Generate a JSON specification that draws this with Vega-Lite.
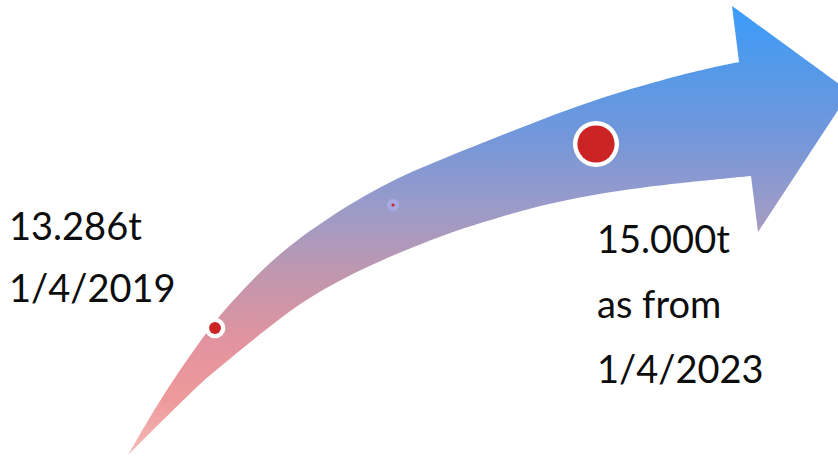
{
  "$schema": "https://vega.github.io/schema/vega-lite/v6.json",
  "width": 838,
  "height": 456,
  "autosize": {"type": "fit", "contains": "padding"},
  "padding": 0,
  "background": "white",
  "config": {"view": {"stroke": null}},
  "datasets": {
    "body": [
      {"x": 128, "top": 455, "bottom": 455},
      {"x": 140, "top": 434, "bottom": 443},
      {"x": 150, "top": 417, "bottom": 433},
      {"x": 160, "top": 401, "bottom": 423},
      {"x": 170, "top": 385, "bottom": 413},
      {"x": 187, "top": 360, "bottom": 396.5},
      {"x": 203, "top": 337, "bottom": 381},
      {"x": 220, "top": 315, "bottom": 367},
      {"x": 240, "top": 293, "bottom": 350.5},
      {"x": 260, "top": 272, "bottom": 334},
      {"x": 280, "top": 254, "bottom": 318.5},
      {"x": 300, "top": 238, "bottom": 304},
      {"x": 320, "top": 224, "bottom": 291.3},
      {"x": 347, "top": 206, "bottom": 276.5},
      {"x": 380, "top": 187, "bottom": 261},
      {"x": 413, "top": 171, "bottom": 247},
      {"x": 447, "top": 157, "bottom": 234},
      {"x": 480, "top": 144, "bottom": 223},
      {"x": 530, "top": 124, "bottom": 208},
      {"x": 580, "top": 105, "bottom": 197},
      {"x": 630, "top": 89, "bottom": 189},
      {"x": 680, "top": 75, "bottom": 183},
      {"x": 710, "top": 68, "bottom": 180},
      {"x": 739, "top": 62, "bottom": 177},
      {"x": 745, "top": 61, "bottom": 176.5}
    ],
    "head": [
      {"x": 732, "top": 6, "bottom": 6},
      {"x": 739, "top": 11.1, "bottom": 62},
      {"x": 739.01, "top": 11.1, "bottom": 177},
      {"x": 751, "top": 19.85, "bottom": 176},
      {"x": 758, "top": 24.95, "bottom": 232},
      {"x": 850, "top": 92, "bottom": 92}
    ],
    "dots": [
      {"stage": "2019", "x": 215, "y": 328},
      {"stage": "mid", "x": 393, "y": 205},
      {"stage": "2023", "x": 596, "y": 144}
    ],
    "labels": [
      {"text": "13.286t", "x": 9, "y": 240},
      {"text": "1/4/2019", "x": 9, "y": 302},
      {"text": "15.000t", "x": 597, "y": 253},
      {"text": "as from", "x": 597, "y": 318},
      {"text": "1/4/2023", "x": 597, "y": 383}
    ]
  },
  "encoding": {
    "x": {"field": "x", "type": "quantitative", "axis": null, "scale": {"domain": [0, 838], "nice": false, "zero": false}}
  },
  "layer": [
    {
      "data": {"name": "body"},
      "mark": {
        "type": "area",
        "interpolate": "basis",
        "clip": true,
        "fill": {
          "gradient": "linear",
          "x1": 0, "y1": -0.1421, "x2": 0, "y2": 1.0,
          "stops": [
            {"offset": 0, "color": "#3a9cfb"},
            {"offset": 0.15, "color": "#5699e8"},
            {"offset": 0.3, "color": "#7597d9"},
            {"offset": 0.45, "color": "#9b9bc9"},
            {"offset": 0.6, "color": "#c097ae"},
            {"offset": 0.75, "color": "#e2939e"},
            {"offset": 0.88, "color": "#ee9a9a"},
            {"offset": 1, "color": "#f4baba"}
          ]
        }
      },
      "encoding": {
        "y": {"field": "top", "type": "quantitative", "axis": null, "scale": {"domain": [0, 456], "nice": false, "zero": false, "reverse": true}},
        "y2": {"field": "bottom"}
      }
    },
    {
      "data": {"name": "head"},
      "mark": {
        "type": "area",
        "interpolate": "linear",
        "clip": true,
        "fill": {
          "gradient": "linear",
          "x1": 0, "y1": -0.0044, "x2": 0, "y2": 1.9867,
          "stops": [
            {"offset": 0, "color": "#3a9cfb"},
            {"offset": 0.15, "color": "#5699e8"},
            {"offset": 0.3, "color": "#7597d9"},
            {"offset": 0.45, "color": "#9b9bc9"},
            {"offset": 0.6, "color": "#c097ae"},
            {"offset": 0.75, "color": "#e2939e"},
            {"offset": 0.88, "color": "#ee9a9a"},
            {"offset": 1, "color": "#f4baba"}
          ]
        }
      },
      "encoding": {
        "y": {"field": "top", "type": "quantitative", "axis": null, "scale": {"domain": [0, 456], "nice": false, "zero": false, "reverse": true}},
        "y2": {"field": "bottom"}
      }
    },
    {
      "data": {"name": "dots"},
      "transform": [{"filter": "datum.stage === '2019'"}],
      "mark": {"type": "point", "shape": "circle", "filled": true, "opacity": 1, "strokeWidth": 0, "color": "#ffffff", "size": 430},
      "encoding": {"y": {"field": "y", "type": "quantitative", "axis": null, "scale": {"domain": [0, 456], "nice": false, "zero": false, "reverse": true}}}
    },
    {
      "data": {"name": "dots"},
      "transform": [{"filter": "datum.stage === '2019'"}],
      "mark": {"type": "point", "shape": "circle", "filled": true, "opacity": 1, "strokeWidth": 0, "color": "#cc2424", "size": 141},
      "encoding": {"y": {"field": "y", "type": "quantitative", "axis": null, "scale": {"domain": [0, 456], "nice": false, "zero": false, "reverse": true}}}
    },
    {
      "data": {"name": "dots"},
      "transform": [{"filter": "datum.stage === 'mid'"}],
      "mark": {"type": "point", "shape": "circle", "filled": true, "opacity": 1, "strokeWidth": 0, "color": "#a7a9e2", "size": 154},
      "encoding": {"y": {"field": "y", "type": "quantitative", "axis": null, "scale": {"domain": [0, 456], "nice": false, "zero": false, "reverse": true}}}
    },
    {
      "data": {"name": "dots"},
      "transform": [{"filter": "datum.stage === 'mid'"}],
      "mark": {"type": "point", "shape": "circle", "filled": true, "opacity": 1, "strokeWidth": 0, "color": "#cc2424", "size": 10},
      "encoding": {"y": {"field": "y", "type": "quantitative", "axis": null, "scale": {"domain": [0, 456], "nice": false, "zero": false, "reverse": true}}}
    },
    {
      "data": {"name": "dots"},
      "transform": [{"filter": "datum.stage === '2023'"}],
      "mark": {"type": "point", "shape": "circle", "filled": true, "opacity": 1, "strokeWidth": 0, "color": "#ffffff", "size": 2124},
      "encoding": {"y": {"field": "y", "type": "quantitative", "axis": null, "scale": {"domain": [0, 456], "nice": false, "zero": false, "reverse": true}}}
    },
    {
      "data": {"name": "dots"},
      "transform": [{"filter": "datum.stage === '2023'"}],
      "mark": {"type": "point", "shape": "circle", "filled": true, "opacity": 1, "strokeWidth": 0, "color": "#cc2424", "size": 1385},
      "encoding": {"y": {"field": "y", "type": "quantitative", "axis": null, "scale": {"domain": [0, 456], "nice": false, "zero": false, "reverse": true}}}
    },
    {
      "data": {"name": "labels"},
      "mark": {"type": "text", "align": "left", "baseline": "alphabetic", "font": "Lato", "fontSize": 38, "color": "#0d0d0d"},
      "encoding": {
        "y": {"field": "y", "type": "quantitative", "axis": null, "scale": {"domain": [0, 456], "nice": false, "zero": false, "reverse": true}},
        "text": {"field": "text", "type": "nominal"}
      }
    }
  ]
}
